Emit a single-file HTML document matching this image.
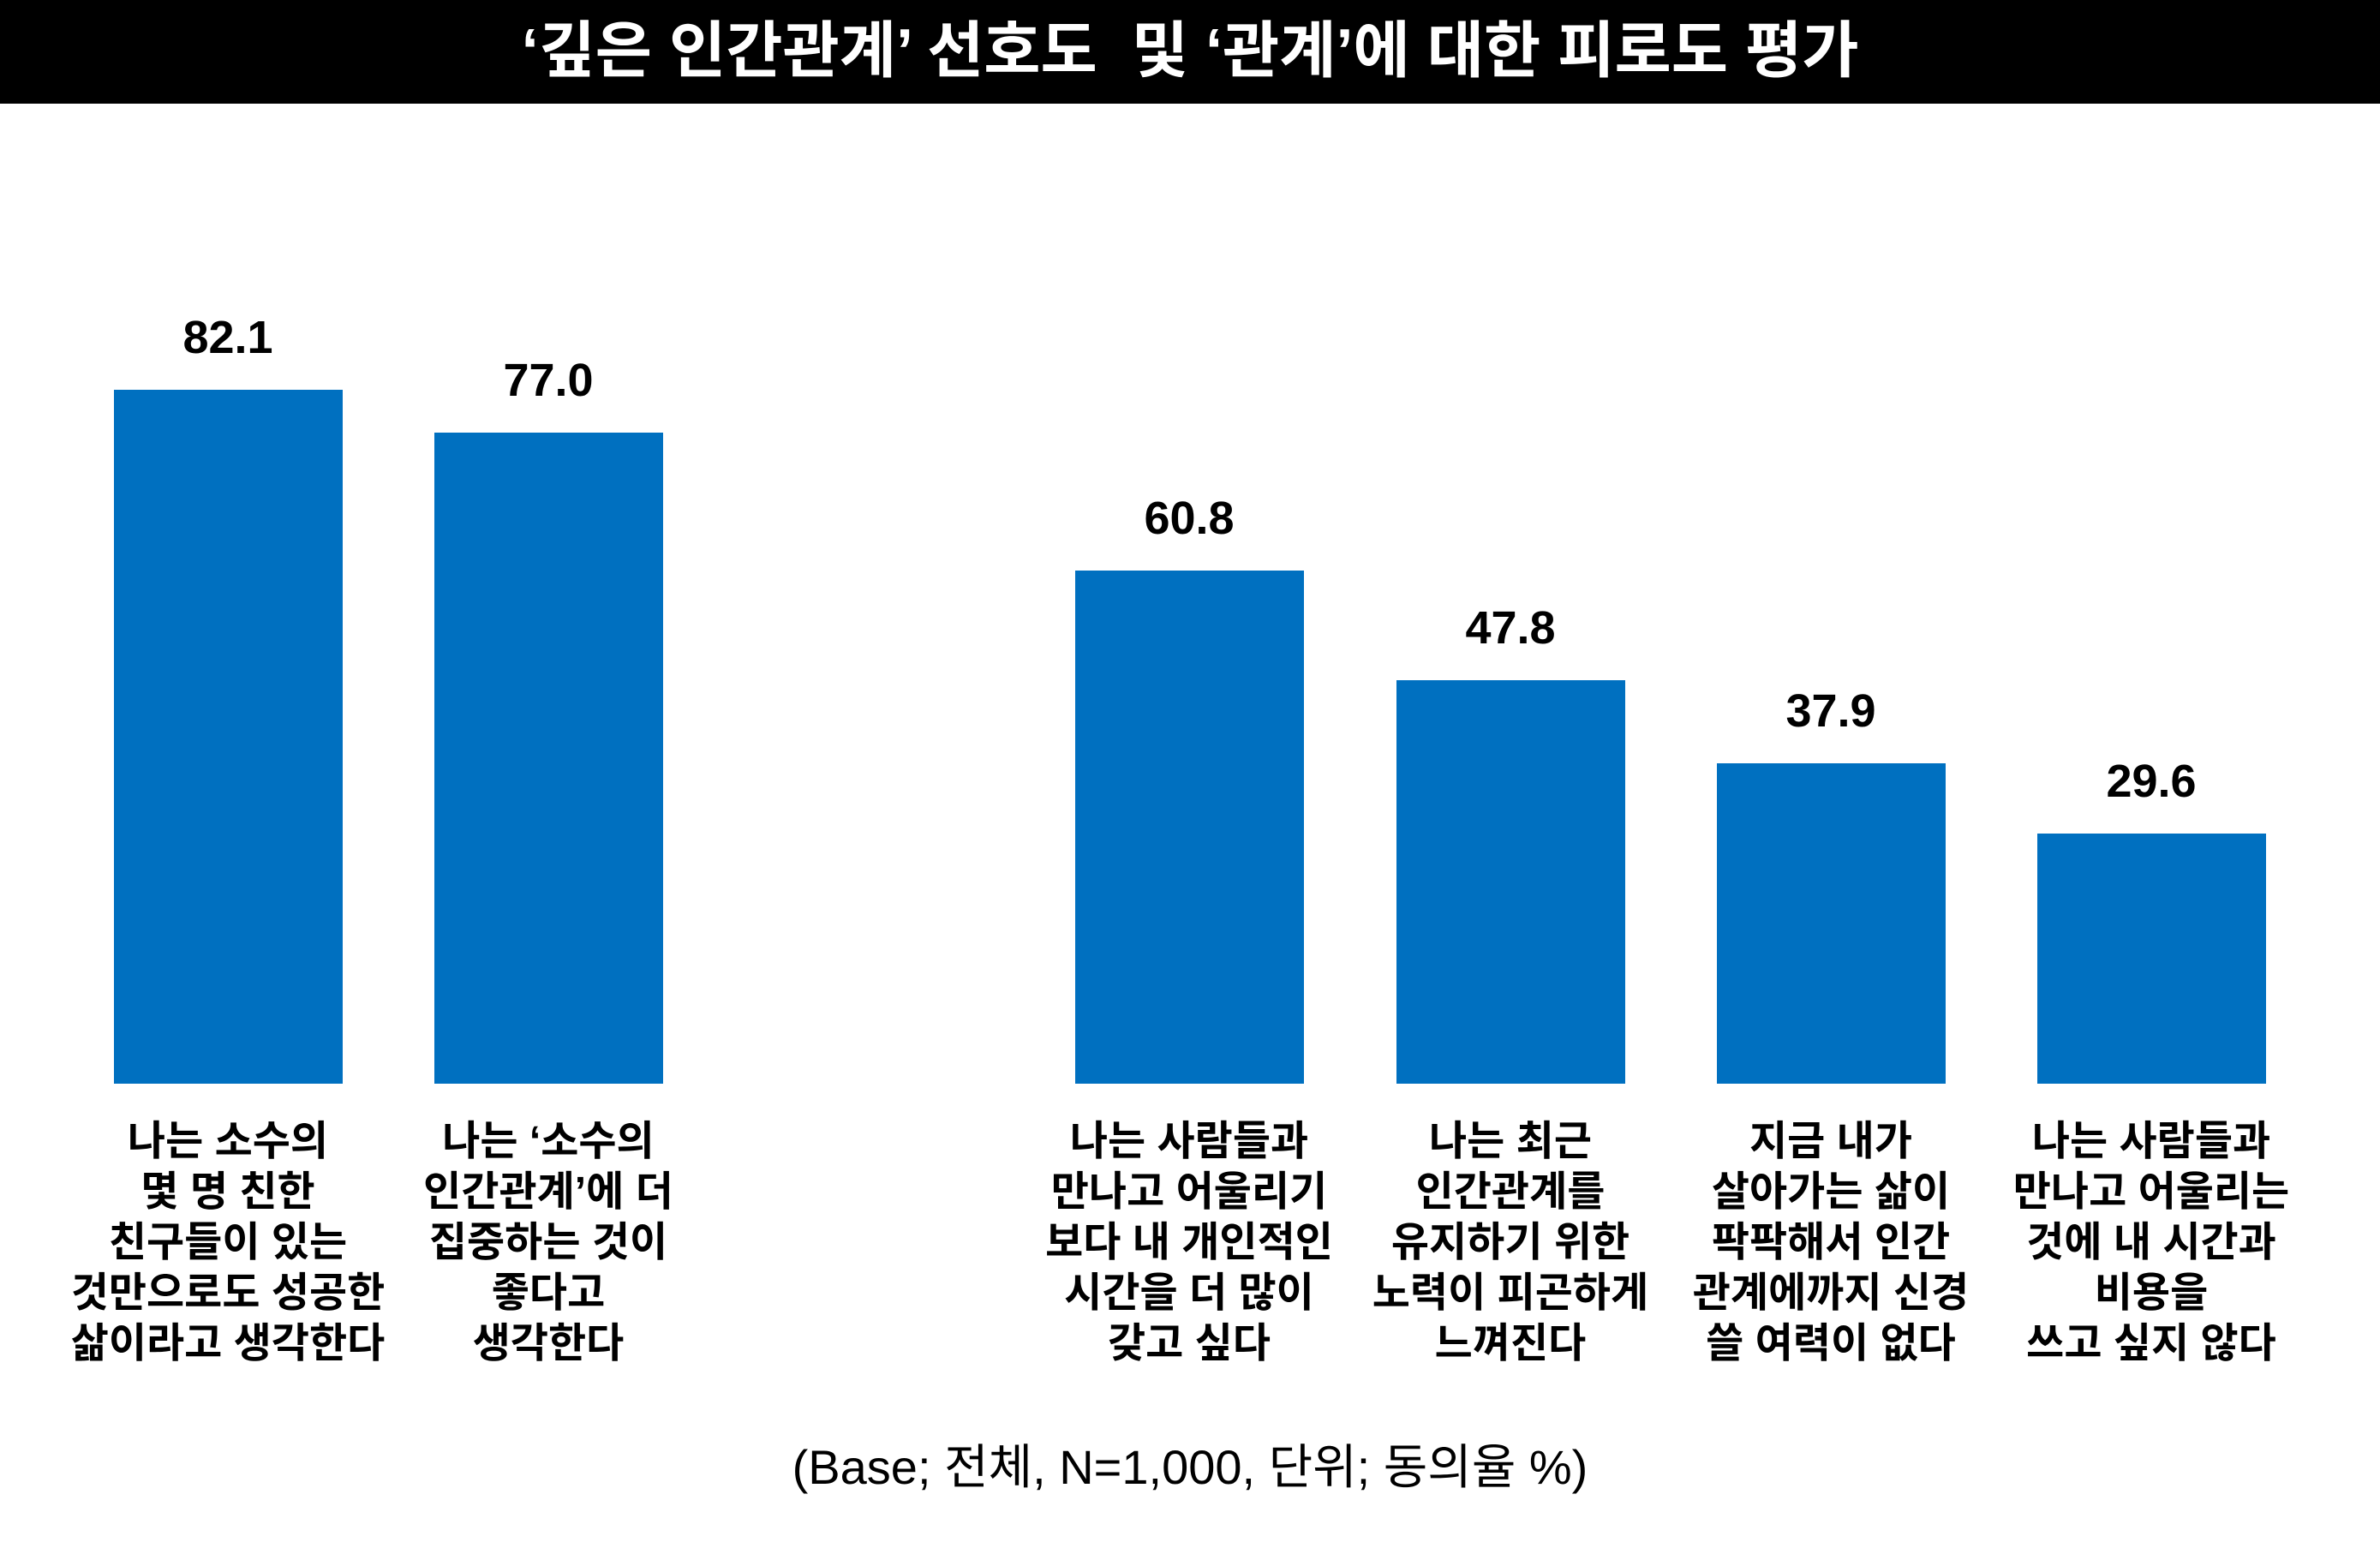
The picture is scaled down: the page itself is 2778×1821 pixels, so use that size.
<!DOCTYPE html>
<html><head><meta charset="utf-8"><style>
html,body{margin:0;padding:0;background:#fff;}
svg{display:block;}
text{font-family:"Liberation Sans","Noto Sans CJK KR",sans-serif;}
</style></head><body>
<svg width="2778" height="1821" viewBox="0 0 2778 1821" xmlns="http://www.w3.org/2000/svg">
<rect x="0" y="0" width="2778" height="121" fill="#000"/>
<text x="1389" y="84" fill="#fff" font-size="72" font-weight="bold" text-anchor="middle">‘깊은 인간관계’ 선호도&#160;&#160;및 ‘관계’에 대한 피로도 평가</text>
<g fill="#0070C0">
<rect x="133" y="455" width="267" height="810"/>
<rect x="507" y="505" width="267" height="760"/>
<rect x="1255" y="666" width="267" height="599"/>
<rect x="1630" y="794" width="267" height="471"/>
<rect x="2004" y="891" width="267" height="374"/>
<rect x="2378" y="973" width="267" height="292"/>
</g>
<g font-size="54" font-weight="bold" text-anchor="middle" fill="#000" style="font-family:'Liberation Serif','Noto Sans CJK KR',serif">
<text x="266" y="412">82.1</text>
<text x="640" y="462">77.0</text>
<text x="1388" y="623">60.8</text>
<text x="1763" y="751">47.8</text>
<text x="2137" y="848">37.9</text>
<text x="2511" y="930">29.6</text>
</g>
<g font-size="48" text-anchor="middle" fill="#000" font-weight="bold">
<text x="266" y="1348">나는 소수의</text>
<text x="266" y="1407">몇 명 친한</text>
<text x="266" y="1466">친구들이 있는</text>
<text x="266" y="1525">것만으로도 성공한</text>
<text x="266" y="1584">삶이라고 생각한다</text>
<text x="640" y="1348">나는 ‘소수의</text>
<text x="640" y="1407">인간관계’에 더</text>
<text x="640" y="1466">집중하는 것이</text>
<text x="640" y="1525">좋다고</text>
<text x="640" y="1584">생각한다</text>
<text x="1388" y="1348">나는 사람들과</text>
<text x="1388" y="1407">만나고 어울리기</text>
<text x="1388" y="1466">보다 내 개인적인</text>
<text x="1388" y="1525">시간을 더 많이</text>
<text x="1388" y="1584">갖고 싶다</text>
<text x="1763" y="1348">나는 최근</text>
<text x="1763" y="1407">인간관계를</text>
<text x="1763" y="1466">유지하기 위한</text>
<text x="1763" y="1525">노력이 피곤하게</text>
<text x="1763" y="1584">느껴진다</text>
<text x="2137" y="1348">지금 내가</text>
<text x="2137" y="1407">살아가는 삶이</text>
<text x="2137" y="1466">팍팍해서 인간</text>
<text x="2137" y="1525">관계에까지 신경</text>
<text x="2137" y="1584">쓸 여력이 없다</text>
<text x="2511" y="1348">나는 사람들과</text>
<text x="2511" y="1407">만나고 어울리는</text>
<text x="2511" y="1466">것에 내 시간과</text>
<text x="2511" y="1525">비용을</text>
<text x="2511" y="1584">쓰고 싶지 않다</text>
</g>
<text x="1389" y="1732" font-size="56" text-anchor="middle" fill="#000">(Base; 전체, N=1,000, 단위; 동의율 %)</text>
</svg>
</body></html>
